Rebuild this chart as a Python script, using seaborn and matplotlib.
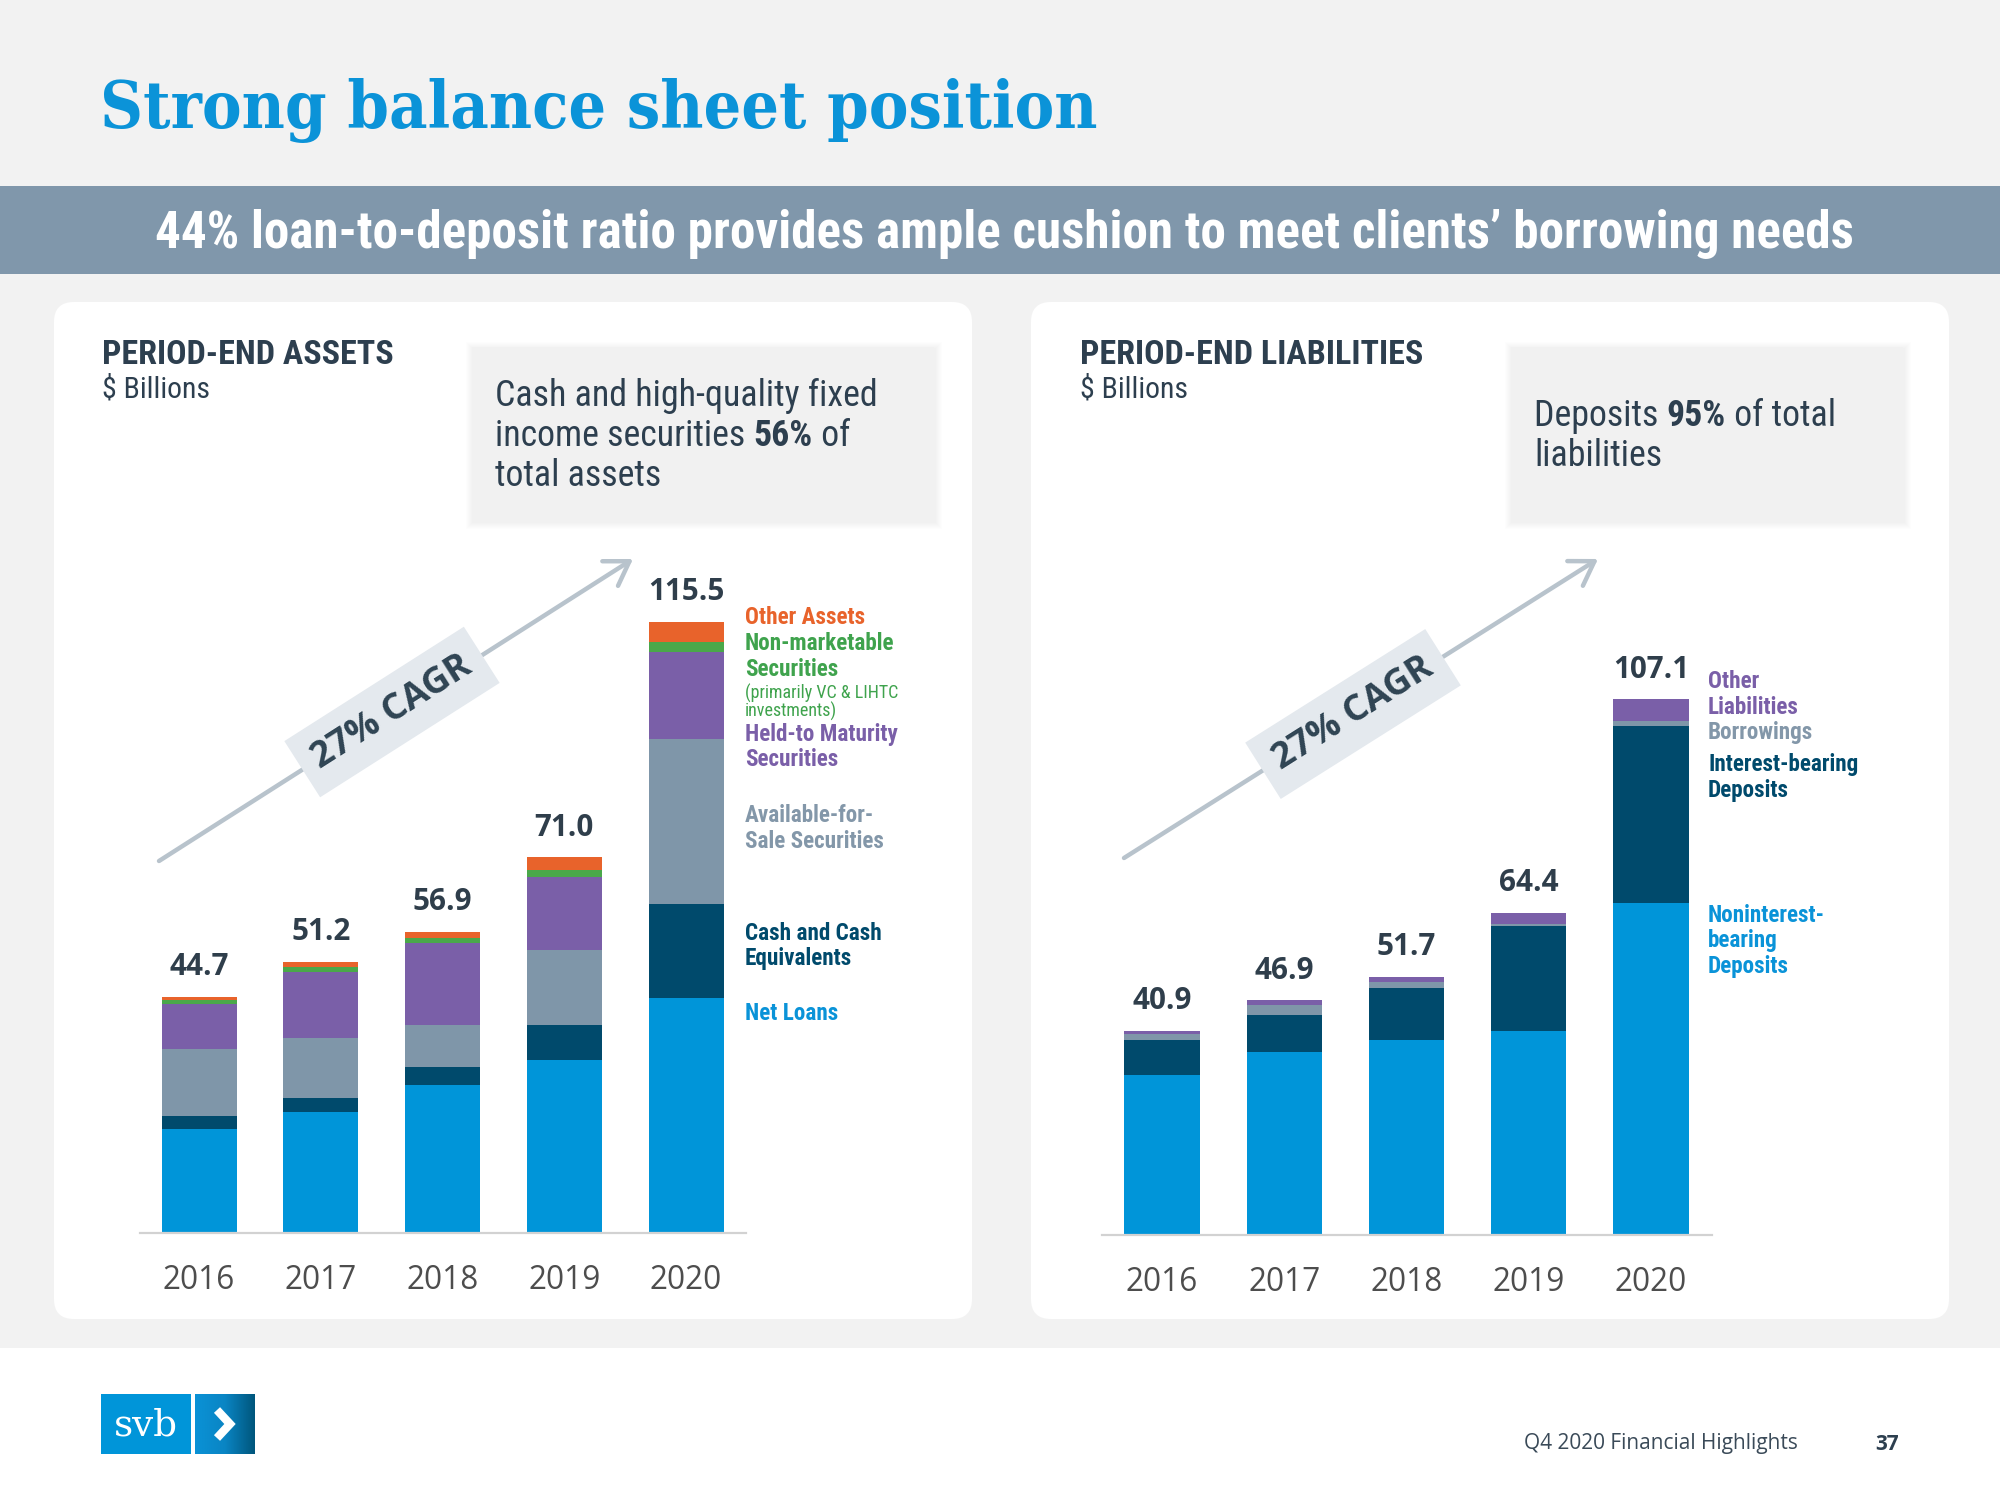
import numpy as np
import pandas as pd
import seaborn as sns
import matplotlib
matplotlib.use("Agg")
import matplotlib.pyplot as plt
from matplotlib.patches import FancyBboxPatch, Rectangle
from matplotlib import font_manager as fm

# ---------------- data ----------------
years = ["2016", "2017", "2018", "2019", "2020"]

asset_totals = [44.7, 51.2, 56.9, 71.0, 115.5]
net_loans = [19.6, 22.9, 28.0, 32.7, 44.5]
cash_equivalents = [2.5, 2.7, 3.4, 6.7, 17.7]
afs_securities = [12.7, 11.3, 7.9, 14.1, 31.1]
htm_securities = [8.5, 12.5, 15.6, 13.8, 16.5]
non_marketable = [0.7, 0.8, 0.9, 1.4, 2.0]
other_assets = [0.7, 1.0, 1.1, 2.3, 3.7]

liability_totals = [40.9, 46.9, 51.7, 64.4, 107.1]
noninterest_deposits = [32.0, 36.6, 39.1, 40.8, 66.3]
interest_deposits = [7.0, 7.4, 10.2, 20.9, 35.5]
borrowings = [1.3, 1.9, 1.4, 0.5, 0.9]
other_liabilities = [0.6, 1.0, 1.0, 2.2, 4.4]

# ---------------- colours ----------------
BLUE = "#0095d9"
DARK = "#004a6c"
GREY = "#7f96a9"
PURPLE = "#7a5fa8"
GREEN = "#4aa84a"
ORANGE = "#e8632b"
TITLE_BLUE = "#0b93d8"
BANNER = "#8097ab"
TXT = "#2d3f4f"
BG = "#f2f2f2"

sns.set_theme(style="white")

# ---------------- fonts ----------------
names = {f.name for f in fm.fontManager.ttflist}
cond_dejavu = any(f.name == "DejaVu Sans" and "Condensed" in f.fname for f in fm.fontManager.ttflist)


def pick(*cands):
    for c in cands:
        if c in names:
            return c
    return "DejaVu Sans"


COND = pick("Roboto Condensed", "Liberation Sans Narrow", "Open Sans Condensed")
COND_STRETCH = "normal"
if COND == "DejaVu Sans":
    COND_STRETCH = "condensed" if cond_dejavu else "normal"
BODY = pick("Open Sans", "Lato", "Noto Sans")
SERIF = pick("DejaVu Serif")
serif_cond = any(f.name == "DejaVu Serif" and "Condensed" in f.fname for f in fm.fontManager.ttflist)

plt.rcParams["font.family"] = [BODY, "DejaVu Sans"]

fig = plt.figure(figsize=(20, 15), dpi=100)
fig.patch.set_facecolor(BG)
renderer = fig.canvas.get_renderer()

bg = fig.add_axes([0, 0, 1, 1], zorder=0)
bg.set_xlim(0, 2000)
bg.set_ylim(1500, 0)
bg.axis("off")


def fit_size(text, target_w, **kw):
    t = bg.text(0, 0, text, fontsize=40, **kw)
    w = t.get_window_extent(renderer=renderer).width
    t.remove()
    return 40 * target_w / w


def runs(x, y, parts, size, family, color, va="baseline"):
    for txt, weight in parts:
        t = bg.text(x, y, txt, fontsize=size, family=family, fontweight=weight,
                    color=color, va=va, ha="left")
        x += t.get_window_extent(renderer=renderer).width


# ---------------- background blocks ----------------
bg.add_patch(Rectangle((0, 186), 2000, 88, fc=BANNER, ec="none"))
bg.add_patch(Rectangle((0, 1348), 2000, 152, fc="white", ec="none"))
for x0 in (54, 1031):
    bg.add_patch(FancyBboxPatch((x0, 302), 918, 1017,
                                boxstyle="round,pad=0,rounding_size=20",
                                fc="white", ec="none"))

# title
title_kw = dict(family=[SERIF], fontweight="bold")
if serif_cond:
    title_kw["fontstretch"] = "condensed"
ts = fit_size("Strong balance sheet position", 997, **title_kw)
bg.text(100, 128, "Strong balance sheet position", fontsize=ts, color=TITLE_BLUE,
        va="baseline", ha="left", **title_kw)

# banner
bkw = dict(family=[COND, "DejaVu Sans"], fontweight="bold", fontstretch=COND_STRETCH)
btxt = "44% loan-to-deposit ratio provides ample cushion to meet clients\u2019 borrowing needs"
bs = fit_size(btxt, 1692, **bkw)
bg.text(1004, 248, btxt, fontsize=bs, color="white", ha="center", va="baseline", **bkw)

# panel headers
hs = fit_size("PERIOD-END ASSETS", 291, **bkw)
bg.text(102, 364, "PERIOD-END ASSETS", fontsize=hs, color=TXT, va="baseline", **bkw)
bg.text(1080, 364, "PERIOD-END LIABILITIES", fontsize=hs, color=TXT, va="baseline", **bkw)
ckw = dict(family=[COND, "DejaVu Sans"], fontstretch=COND_STRETCH)
ss = fit_size("$ Billions", 108, **ckw)
bg.text(102, 397, "$ Billions", fontsize=ss, color=TXT, va="baseline", **ckw)
bg.text(1080, 397, "$ Billions", fontsize=ss, color=TXT, va="baseline", **ckw)

# callout boxes with soft shadow
for (x0, y0, w, h) in [(472, 347, 462, 173), (1511, 347, 392, 173)]:
    for k in range(7, 0, -1):
        bg.add_patch(Rectangle((x0 - k + 1, y0 - k + 2), w + 2 * k, h + 2 * k,
                               fc="black", ec="none", alpha=0.006))
    bg.add_patch(Rectangle((x0, y0), w, h, fc="#f1f1f1", ec="none"))

cs = fit_size("Cash and high-quality fixed", 383, **ckw)
cfam = [COND, "DejaVu Sans"]
runs(495, 406, [("Cash and high-quality fixed", "normal")], cs, cfam, TXT)
runs(495, 446, [("income securities ", "normal"), ("56%", "bold"), (" of", "normal")], cs, cfam, TXT)
runs(495, 486, [("total assets", "normal")], cs, cfam, TXT)
runs(1534, 426, [("Deposits ", "normal"), ("95%", "bold"), (" of total", "normal")], cs, cfam, TXT)
runs(1534, 466, [("liabilities", "normal")], cs, cfam, TXT)

# CAGR arrows
for (x0, y0, x1, y1, cx, cy) in [(159, 861, 633, 559, 392, 712), (1124, 858, 1598, 559, 1353, 714)]:
    bg.annotate("", xy=(x1, y1), xytext=(x0, y0),
                arrowprops=dict(arrowstyle="->,head_length=0.55,head_width=0.35",
                                color="#b8c3cc", lw=3.2, mutation_scale=30,
                                shrinkA=0, shrinkB=0))
    ang = np.degrees(np.arctan2(y0 - y1, x1 - x0))
    gs = fit_size("27% CAGR", 182, family=[BODY], fontweight="bold")
    bg.text(cx, cy, "27% CAGR", fontsize=gs, family=[BODY], fontweight="bold",
            color="#2f4453", rotation=ang, rotation_mode="anchor",
            ha="center", va="center", zorder=5,
            bbox=dict(boxstyle="square,pad=0.42", fc="#e4e9ee", ec="none"))

# legends
ls = fit_size("Non-marketable", 150, **bkw)
left_legend = [
    ("Other Assets", ORANGE, 617, "bold", 1.0),
    ("Non-marketable", "#3fa34d", 644, "bold", 1.0),
    ("Securities", "#3fa34d", 670, "bold", 1.0),
    ("(primarily VC & LIHTC", "#3fa34d", 693, "normal", 0.78),
    ("investments)", "#3fa34d", 711, "normal", 0.78),
    ("Held-to Maturity", PURPLE, 735, "bold", 1.0),
    ("Securities", PURPLE, 760, "bold", 1.0),
    ("Available-for-", "#8397a9", 815, "bold", 1.0),
    ("Sale Securities", "#8397a9", 841, "bold", 1.0),
    ("Cash and Cash", DARK, 934, "bold", 1.0),
    ("Equivalents", DARK, 959, "bold", 1.0),
    ("Net Loans", "#0a93d8", 1014, "bold", 1.0),
]
for txt, col, y, wt, sc in left_legend:
    bg.text(745, y, txt, fontsize=ls * sc, color=col, va="center", ha="left",
            family=[COND, "DejaVu Sans"], fontweight=wt, fontstretch=COND_STRETCH)
right_legend = [
    ("Other", PURPLE, 682),
    ("Liabilities", PURPLE, 708),
    ("Borrowings", "#8397a9", 732),
    ("Interest-bearing", DARK, 764),
    ("Deposits", DARK, 790),
    ("Noninterest-", "#0a93d8", 916),
    ("bearing", "#0a93d8", 941),
    ("Deposits", "#0a93d8", 967),
]
for txt, col, y in right_legend:
    bg.text(1708, y, txt, fontsize=ls, color=col, va="center", ha="left", **bkw)

# footer
fs = fit_size("Q4 2020 Financial Highlights", 274, family=[BODY])
bg.text(1524, 1444, "Q4 2020 Financial Highlights", fontsize=fs, color="#3a4a58",
        va="center", ha="left", family=[BODY])
bg.text(1875, 1444, "37", fontsize=fs, color="#2d3f4f", va="center", ha="left",
        family=[BODY], fontweight="bold")
bg.add_patch(Rectangle((101, 1394), 90, 60, fc=BLUE, ec="none"))
grad = np.linspace(0, 1, 100)[None, :]
cmap = matplotlib.colors.LinearSegmentedColormap.from_list("g", ["#0a92d6", "#0a85c4", "#00567c"])
bg.imshow(grad, extent=(195, 255, 1454, 1394), cmap=cmap, aspect="auto", zorder=1)
bg.set_xlim(0, 2000)
bg.set_ylim(1500, 0)
lg = fit_size("svb", 64, family=[SERIF])
bg.text(146, 1426, "svb", fontsize=lg, family=[SERIF], color="white", ha="center", va="center")
bg.plot([217, 230, 217], [1410, 1424, 1438], color="white", lw=6, solid_joinstyle="miter",
        solid_capstyle="butt", zorder=3)

# ---------------- charts ----------------
ys = fit_size("2016", 72, family=[BODY])
vs = fit_size("115.5", 76, family=[BODY], fontweight="bold")


def stacked_chart(rect, xlim, ylim, layers, colors, totals):
    ax = fig.add_axes(rect, zorder=2)
    ax.set_facecolor("none")
    cum = np.cumsum(np.array(layers, dtype=float), axis=0)
    for i in range(len(layers) - 1, -1, -1):
        df = pd.DataFrame({"year": years, "value": cum[i]})
        sns.barplot(data=df, x="year", y="value", color=colors[i], saturation=1,
                    width=0.616, errorbar=None, linewidth=0, edgecolor="none", ax=ax)
    for i, v in enumerate(totals):
        ax.annotate(f"{v:.1f}", (i, v), xytext=(0, 21.5), textcoords="offset points",
                    ha="center", va="center", fontsize=vs, fontweight="bold",
                    color="#2f3e4b", family=[BODY])
    ax.set_xlim(*xlim)
    ax.set_ylim(*ylim)
    sns.despine(ax=ax, left=True, top=True, right=True)
    ax.spines["bottom"].set_color("#d2d2d2")
    ax.spines["bottom"].set_linewidth(1.6)
    ax.set_yticks([])
    ax.set_xlabel("")
    ax.set_ylabel("")
    ax.tick_params(axis="x", length=0, pad=22, labelsize=ys, labelcolor="#4d4d4d")
    for lab in ax.get_xticklabels():
        lab.set_family([BODY])
    return ax


stacked_chart([140 / 2000, 1 - 1233 / 1500, 606 / 2000, 673 / 1500],
              (-0.485, 4.492), (0, 673 / 5.29),
              [net_loans, cash_equivalents, afs_securities, htm_securities, non_marketable, other_assets],
              [BLUE, DARK, GREY, PURPLE, GREEN, ORANGE], asset_totals)
stacked_chart([1102 / 2000, 1 - 1235 / 1500, 610 / 2000, 675 / 1500],
              (-0.491, 4.499), (0, 675 / 5.0),
              [noninterest_deposits, interest_deposits, borrowings, other_liabilities],
              [BLUE, DARK, GREY, PURPLE], liability_totals)

fig.savefig("out.png", dpi=100, facecolor=BG)
